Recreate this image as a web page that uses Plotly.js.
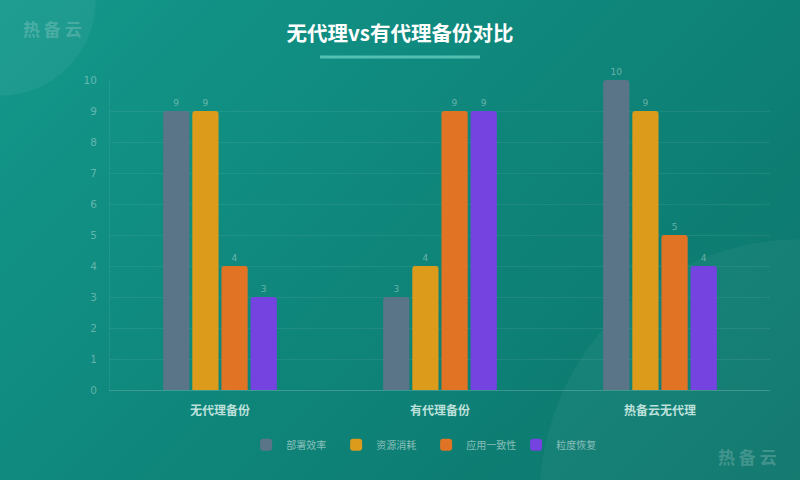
<!DOCTYPE html>
<html>
<head>
<meta charset="utf-8">
<script src="https://cdn.plot.ly/plotly-3.0.1.min.js"></script>
<style>
  html, body { margin: 0; padding: 0; }
  #wrap {
    position: relative;
    width: 800px; height: 480px; overflow: hidden;
    background:
      radial-gradient(circle at 0px 0px, rgba(255,255,255,0.05) 0, rgba(255,255,255,0.05) 95px, rgba(255,255,255,0) 96px),
      radial-gradient(circle at 800px 500px, rgba(255,255,255,0.04) 0, rgba(255,255,255,0.04) 260px, rgba(255,255,255,0) 261px),
      linear-gradient(135deg, #13988b 0%, #0f857a 50%, #0c756b 100%);
  }
  #chart { width: 800px; height: 480px; }
</style>
</head>
<body>
<div id="wrap"><div id="chart"></div></div>
<script>
// categories and series
const categories = ['无代理备份', '有代理备份', '热备云无代理'];
const seriesNames = ['部署效率', '资源消耗', '应用一致性', '粒度恢复'];
const deployEff = [9, 3, 10];
const resourceUse = [9, 4, 9];
const appConsist = [4, 9, 5];
const granularRestore = [3, 9, 4];
const yTicks = [0, 1, 2, 3, 4, 5, 6, 7, 8, 9, 10];

const colors = ['#5b7588', '#dc9b1b', '#e07424', '#7443e0'];
const allValues = [deployEff, resourceUse, appConsist, granularRestore];

let data = allValues.map(function (vals, i) {
    return {
        x: categories,
        y: vals,
        type: 'bar',
        name: seriesNames[i],
        text: vals.map(String),
        textposition: 'outside',
        cliponaxis: false,
        textfont: { size: 9, color: 'rgba(255,255,255,0.38)', family: 'DejaVu Sans' },
        marker: { color: colors[i], line: { width: 0 } },
        hoverinfo: 'skip'
    };
});

// category labels drawn bold, as in the picture
let catLabels = categories.map(function (c) { return '<b>' + c + '</b>'; });

let layout = {
    width: 800,
    height: 480,
    paper_bgcolor: 'rgba(0,0,0,0)',
    plot_bgcolor: 'rgba(0,0,0,0)',
    margin: { l: 110, r: 30, t: 80, b: 90 },
    barmode: 'group',
    bargap: 0.47,
    bargroupgap: 0.1,
    barcornerradius: 3,
    font: { family: 'Noto Sans CJK SC, Noto Sans, sans-serif' },
    title: {
        text: '<b>无代理vs有代理备份对比</b>',
        font: { size: 20.5, color: '#ffffff', family: 'Noto Sans CJK SC' },
        x: 0.5, xref: 'container', xanchor: 'center',
        y: 1, yref: 'container', yanchor: 'top', pad: { t: 27 }
    },
    xaxis: {
        tickmode: 'array',
        tickvals: categories,
        ticktext: catLabels,
        tickfont: { size: 12, color: '#bde0db', family: 'Noto Sans CJK SC' },
        showline: true,
        linecolor: 'rgba(255,255,255,0.18)',
        linewidth: 1,
        showgrid: false,
        ticks: '',
        ticklabelstandoff: 10,
        fixedrange: true
    },
    yaxis: {
        range: [0, 10],
        tickvals: yTicks,
        tickfont: { size: 10.5, color: 'rgba(255,255,255,0.35)', family: 'DejaVu Sans' },
        gridcolor: 'rgba(255,255,255,0.07)',
        showline: true,
        linecolor: 'rgba(255,255,255,0.07)',
        zeroline: false,
        ticks: '',
        ticklabelstandoff: 10,
        fixedrange: true
    },
    legend: {
        orientation: 'h',
        x: 0.479, xanchor: 'center',
        y: -0.13, yanchor: 'top',
        font: { size: 10, color: 'rgba(255,255,255,0.5)', family: 'Noto Sans CJK SC' },
        itemwidth: 30,
        entrywidth: 45,
        itemclick: false,
        itemdoubleclick: false
    },
    shapes: [{
        type: 'line',
        xref: 'paper', yref: 'paper',
        x0: (320 - 110) / 660, x1: (480 - 110) / 660,
        y0: (390 - 57) / 310, y1: (390 - 57) / 310,
        line: { color: 'rgba(120,220,205,0.65)', width: 3 }
    }],
    annotations: [{
        text: '<b>热 备 云</b>',
        xref: 'paper', yref: 'paper',
        x: (21 - 110) / 660, y: (390 - 28) / 310,
        xanchor: 'left', yanchor: 'middle',
        showarrow: false,
        font: { size: 17, color: 'rgba(255,255,255,0.2)', family: 'Noto Sans CJK SC' }
    }, {
        text: '<b>热 备 云</b>',
        xref: 'paper', yref: 'paper',
        x: (779 - 110) / 660, y: (390 - 456) / 310,
        xanchor: 'right', yanchor: 'middle',
        showarrow: false,
        font: { size: 17, color: 'rgba(255,255,255,0.2)', family: 'Noto Sans CJK SC' }
    }]
};

Plotly.newPlot('chart', data, layout, { displayModeBar: false, staticPlot: true });
</script>
</body>
</html>
